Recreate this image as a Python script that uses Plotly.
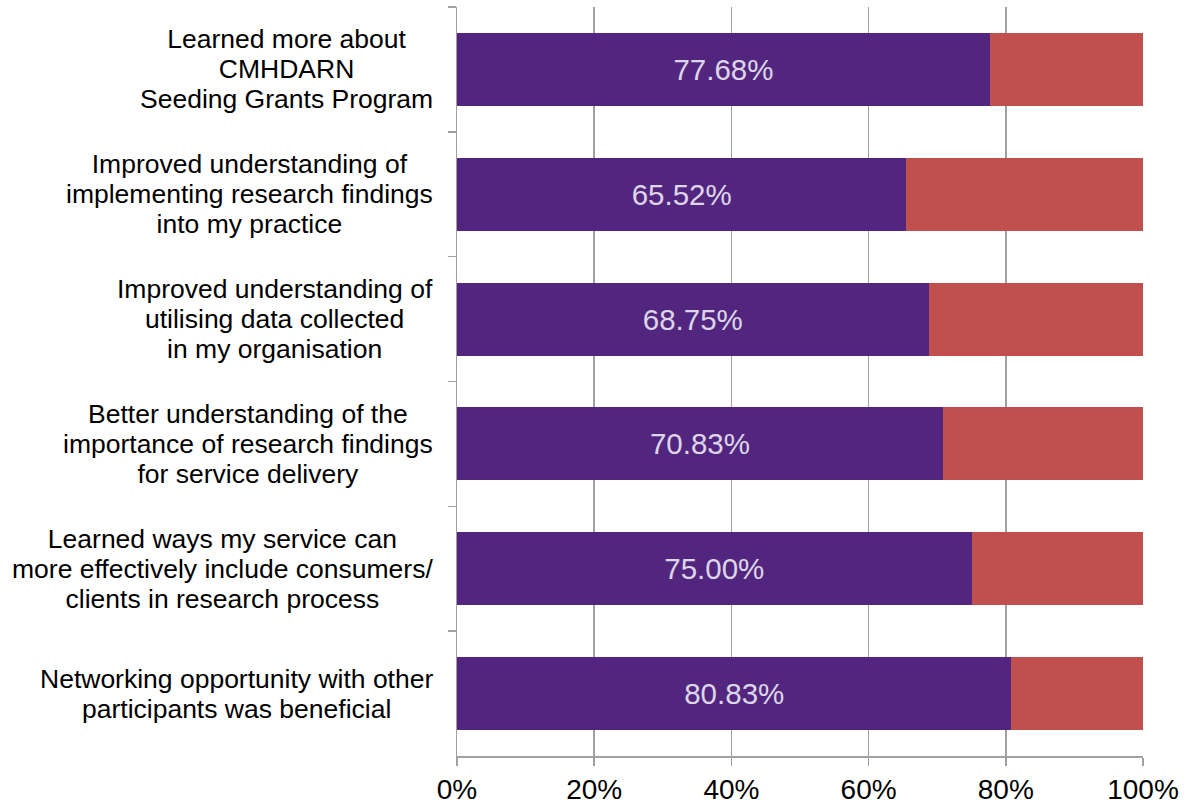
import plotly.graph_objects as go

categories = [
    "Learned more about<br>CMHDARN<br>Seeding Grants Program",
    "Improved understanding of<br>implementing research findings<br>into my practice",
    "Improved understanding of<br>utilising data collected<br>in my organisation",
    "Better understanding of the<br>importance of research findings<br>for service delivery",
    "Learned ways my service can<br>more effectively include consumers/<br>clients in research process",
    "Networking opportunity with other<br>participants was beneficial",
]
agree = [77.68, 65.52, 68.75, 70.83, 75.00, 80.83]
other = [22.32, 34.48, 31.25, 29.17, 25.00, 19.17]
x_ticks = [0, 20, 40, 60, 80, 100]
x_tick_labels = ["0%", "20%", "40%", "60%", "80%", "100%"]

FONT = "Liberation Sans, Arial, sans-serif"

fig = go.Figure()
fig.add_trace(go.Bar(
    y=categories, x=agree, orientation="h",
    marker=dict(color="#52267F", line=dict(width=0)),
    text=[f"{v:.2f}%" for v in agree], textposition="inside",
    insidetextanchor="middle",
    textfont=dict(family=FONT, size=29.5, color="#DCD6E8"),
    width=0.585, hoverinfo="skip",
))
fig.add_trace(go.Bar(
    y=categories, x=other, orientation="h",
    marker=dict(color="#C0504D", line=dict(width=0)),
    width=0.585, hoverinfo="skip",
))

for c in categories:
    styled = "<br>".join(
        f'<span style="font-size:26.5px">{line}</span>' for line in c.split("<br>")
    )
    fig.add_annotation(
        x=0, xref="paper", y=c, yref="y", text=styled, showarrow=False,
        xanchor="right", yanchor="middle", align="center", xshift=-22,
        font=dict(family=FONT, size=23, color="#000000"),
    )

fig.update_layout(
    barmode="stack",
    width=1189, height=807,
    margin=dict(l=457, r=46, t=7, b=51, autoexpand=False),
    plot_bgcolor="white", paper_bgcolor="white",
    showlegend=False,
    bargap=0.415,
)
fig.update_xaxes(
    range=[0, 100], tickvals=x_ticks, ticktext=x_tick_labels,
    showgrid=True, gridcolor="#A0A0A0", gridwidth=1.5,
    showline=True, linecolor="#A0A0A0", linewidth=1.5,
    ticks="outside", ticklen=8, tickcolor="#A0A0A0", tickwidth=1.5,
    tickfont=dict(family=FONT, size=28, color="#000000"),
    zeroline=False, fixedrange=True,
)
fig.update_yaxes(
    autorange="reversed", showticklabels=False,
    showline=True, linecolor="#A0A0A0", linewidth=1.5,
    ticks="outside", ticklen=8, tickcolor="#A0A0A0", tickwidth=1.5,
    tickson="boundaries", showgrid=False, fixedrange=True,
)

fig.write_html(
    "out.html",
    config={"displayModeBar": False, "staticPlot": True},
    post_script="document.body.style.margin='0';document.body.style.overflow='hidden';",
)
